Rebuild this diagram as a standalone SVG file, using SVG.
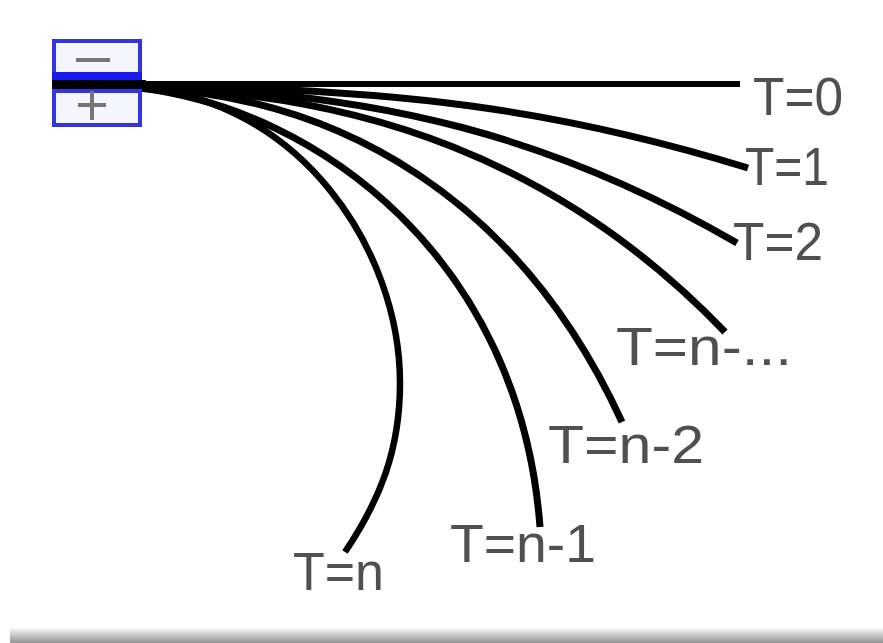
<svg xmlns="http://www.w3.org/2000/svg" width="883" height="643" viewBox="0 0 883 643">
<style>
.lbl{font-family:"Liberation Sans",Arial,sans-serif;font-size:54px;fill:#505050}
.wire{fill:none;stroke:#000;stroke-width:7;stroke-linecap:butt}
.plate{fill:#f4f7ff;stroke:#3434e0;stroke-width:4}
.sign{stroke:#777;stroke-width:4;fill:none}
</style>
<defs>
<linearGradient id="shade" x1="0" y1="0" x2="0" y2="1">
<stop offset="0" stop-color="#fff"/>
<stop offset="1" stop-color="#939393"/>
</linearGradient>
</defs>
<rect width="883" height="643" fill="#fff"/>
<rect x="10" y="627" width="873" height="16" fill="url(#shade)"/>
<g id="connectors">
<path class="wire" style="stroke-width:6" d="M140,84 L740,84"/>
<path class="wire" d="M140,86 C400,88 560,110 748,168"/>
<path class="wire" d="M140,87 C380,90 560,140 737,243"/>
<path class="wire" d="M140,88 C360,92 560,160 725,332"/>
<path class="wire" d="M140,88 C340,95 520,200 622,422"/>
<path class="wire" d="M140,88 C320,110 520,260 540,527"/>
<path class="wire" style="stroke-width:6.5" d="M140,88 C300,100 400,250 400,383 C400,450 380,500 345,552"/>
</g>
<g id="minus-plate">
<rect class="plate" x="54" y="41" width="86" height="35"/>
<rect x="52" y="72" width="90" height="8" fill="#1a1aee"/>
<line class="sign" x1="76" y1="60" x2="110" y2="60"/>
</g>
<g id="bar">
<rect x="52" y="80" width="94" height="10" fill="#000"/>
</g>
<g id="plus-plate">
<rect class="plate" x="54" y="91" width="86" height="34"/>
<line class="sign" x1="78" y1="105" x2="106" y2="105"/>
<line class="sign" x1="92" y1="91" x2="92" y2="120"/>
</g>
<g id="labels">
<text class="lbl" x="753" y="115" textLength="90" lengthAdjust="spacingAndGlyphs">T=0</text>
<text class="lbl" x="745" y="185" textLength="84" lengthAdjust="spacingAndGlyphs">T=1</text>
<text class="lbl" x="733" y="260" textLength="90" lengthAdjust="spacingAndGlyphs">T=2</text>
<text class="lbl" x="616" y="365" textLength="176" lengthAdjust="spacingAndGlyphs">T=n-...</text>
<text class="lbl" x="548" y="463" textLength="156" lengthAdjust="spacingAndGlyphs">T=n-2</text>
<text class="lbl" x="450" y="562" textLength="146" lengthAdjust="spacingAndGlyphs">T=n-1</text>
<text class="lbl" x="293" y="590" textLength="91" lengthAdjust="spacingAndGlyphs">T=n</text>
</g>
</svg>
